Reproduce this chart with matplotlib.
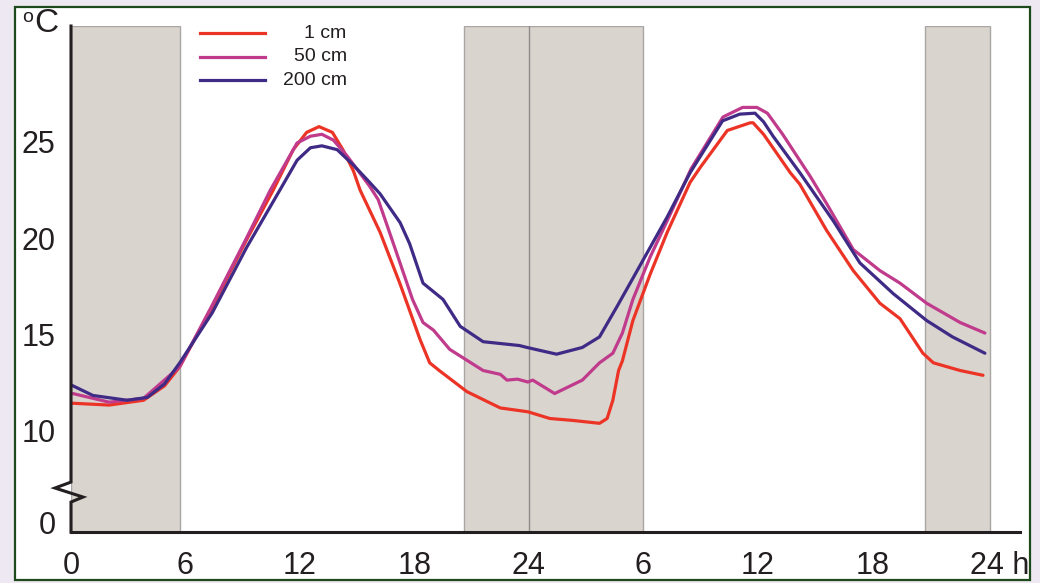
import matplotlib.pyplot as plt
from matplotlib.patches import Rectangle
from matplotlib.transforms import offset_copy

plt.rcParams['font.family'] = ['Liberation Sans', 'DejaVu Sans']

# ---------------------------------------------------------------------------
# Data: hours since midnight of day 1, temperature in °C
# ---------------------------------------------------------------------------
hours_1cm = [0, 2.0, 3.8, 4.9, 5.7, 7.4, 9.2, 10.6, 11.65, 12.35, 13.0, 13.7,
             14.25, 14.8, 15.15, 16.2, 17.25, 18.3, 18.8, 19.3, 20.75, 22.5,
             23.95, 25.1, 26.3, 27.7, 28.1, 28.4, 28.7, 28.9, 29.45, 30.35,
             31.25, 32.45, 33.0, 34.4, 35.6, 35.75, 36.3, 37.7, 38.2, 39.6,
             41.0, 42.4, 43.45, 44.65, 45.2, 46.6, 47.8]
temp_1cm = [11.4, 11.3, 11.55, 12.3, 13.3, 16.4, 19.9, 22.5, 24.6, 25.5, 25.8,
            25.5, 24.6, 23.5, 22.5, 20.3, 17.6, 14.7, 13.5, 13.1, 12.0, 11.15,
            10.95, 10.6, 10.5, 10.35, 10.6, 11.55, 13.1, 13.6, 15.7, 18.1,
            20.3, 22.9, 23.7, 25.6, 26.0, 26.0, 25.4, 23.4, 22.8, 20.4,
            18.3, 16.6, 15.8, 14.0, 13.5, 13.1, 12.85]

hours_50cm = [0.1, 2.0, 3.8, 5.7, 7.4, 9.2, 10.45, 11.85, 12.55, 13.15, 13.75,
              14.45, 15.65, 16.1, 16.9, 17.9, 18.45, 19.0, 19.85, 21.6, 22.5,
              22.85, 23.4, 23.95, 24.2, 25.35, 26.8, 27.7, 28.4, 28.9, 29.45,
              30.35, 31.25, 32.5, 34.17, 35.2, 35.95, 36.5, 37.3, 38.75, 39.6,
              41.0, 42.4, 43.45, 44.85, 46.6, 47.9]
temp_50cm = [11.9, 11.45, 11.65, 13.3, 16.5, 20.0, 22.5, 24.95, 25.3, 25.4, 25.1,
             24.3, 22.7, 22.0, 19.7, 16.8, 15.6, 15.2, 14.2, 13.1, 12.9,
             12.6, 12.65, 12.5, 12.6, 11.9, 12.6, 13.5, 14.0, 15.05, 16.8,
             19.0, 20.9, 23.6, 26.3, 26.8, 26.8, 26.5, 25.4, 23.2, 21.8,
             19.4, 18.3, 17.65, 16.6, 15.6, 15.05]

hours_200cm = [0, 1.15, 2.95, 4.0, 4.9, 5.7, 7.4, 9.2, 10.95, 11.85, 12.55,
               13.15, 13.95, 14.8, 15.65, 16.2, 17.25, 17.75, 18.45, 19.5, 20.4,
               21.6, 23.5, 23.9, 25.45, 26.8, 27.7, 28.6, 29.45, 30.35, 31.25,
               32.45, 34.15, 35.05, 35.85, 36.3, 36.8, 38.2, 39.95, 41.35, 43.1,
               44.85, 46.2, 47.9]
temp_200cm = [12.35, 11.8, 11.55, 11.7, 12.4, 13.5, 16.1, 19.5, 22.5, 24.05, 24.7,
              24.8, 24.6, 23.8, 22.9, 22.3, 20.8, 19.7, 17.65, 16.8, 15.4,
              14.6, 14.4, 14.3, 13.95, 14.3, 14.85, 16.4, 17.9, 19.5, 21.1,
              23.4, 26.1, 26.45, 26.5, 26.05, 25.3, 23.4, 20.9, 18.7, 17.1,
              15.7, 14.85, 14.0]

# dark periods (hours)
night_spans = [(0, 5.7), (20.6, 30.0), (44.75, 48.15)]

xtick_pos = [0, 6, 12, 18, 24, 30, 36, 42, 48]
xtick_labels = ['0', '6', '12', '18', '24', '6', '12', '18', '24 h']
# "0" stands for the broken part of the axis
ytick_pos = [5.2, 10, 15, 20, 25]
ytick_labels = ['0', '10', '15', '20', '25']

series = [
    ('1 cm', hours_1cm, temp_1cm, '#ec3426'),
    ('50 cm', hours_50cm, temp_50cm, '#c03b8c'),
    ('200 cm', hours_200cm, temp_200cm, '#3f2b86'),
]

# ---------------------------------------------------------------------------
fig = plt.figure(figsize=(10.4, 5.83), dpi=100)
fig.patch.set_facecolor('#ede8f1')

# white panel with green frame (behind the axes)
fig.patches.append(Rectangle((15 / 1040, 3 / 583), 1015 / 1040, 573 / 583,
                             transform=fig.transFigure, facecolor='white',
                             edgecolor='#1c4a1c', linewidth=1.6, zorder=-5))

ax = fig.add_axes([71 / 1040, 51 / 583, 949 / 1040, 506 / 583])
ax.set_zorder(2)
ax.set_facecolor('none')
ax.set_xlim(0, 49.74)
ax.set_ylim(4.69, 31.04)

for x0, x1 in night_spans:
    ax.axvspan(x0, x1, facecolor='#dad4cf', edgecolor='#a9a6a4',
               linewidth=1, zorder=1)
ax.axvline(24, color='#8e8c8a', linewidth=1, zorder=1)

for name, h, t, c in series:
    ax.plot(h, t, color=c, linewidth=2.3, solid_capstyle='round',
            solid_joinstyle='round', zorder=3)

# legend drawn by hand: line on the left, text right-aligned
leg_y = [0.986, 0.939, 0.893]
for (name, h, t, c), yy in zip(series, leg_y):
    ax.plot([0.136, 0.204], [yy, yy], color=c, linewidth=2.3,
            transform=ax.transAxes, clip_on=False, zorder=4)
    ax.text(0.2905, yy, name, transform=ax.transAxes, ha='right',
            va='center', fontsize=14, color='#231f20')

# axes: bottom spine plus a hand drawn left axis with a break
for s in ['top', 'right', 'left']:
    ax.spines[s].set_visible(False)
ax.spines['bottom'].set_linewidth(2.2)
ax.spines['bottom'].set_color('#231f20')
ax.plot([0, 0, 0.63, -0.84, 0, 0], [4.69, 6.25, 6.51, 6.98, 7.29, 31.04],
        color='#231f20', linewidth=2.2, clip_on=False, zorder=5,
        solid_joinstyle='miter')

ax.set_xticks(xtick_pos, xtick_labels)
ax.set_yticks(ytick_pos, ytick_labels)
ax.tick_params(length=0, labelsize=22, labelcolor='#231f20')
ax.tick_params(axis='x', pad=14)
ax.tick_params(axis='y', pad=11)
last = ax.get_xticklabels()[-1]
last.set_horizontalalignment('left')
last.set_transform(offset_copy(last.get_transform(), fig=fig, x=-17, y=0,
                               units='dots'))

# degree sign unit label
fig.text(22 / 1040, 1 - 18 / 583, 'o', fontsize=14, color='#231f20',
         ha='left', va='center', zorder=6)
fig.text(34 / 1040, 1 - 24 / 583, 'C', fontsize=24, color='#231f20',
         ha='left', va='center', zorder=6)

fig.savefig('out.png', dpi=100, facecolor=fig.get_facecolor())
